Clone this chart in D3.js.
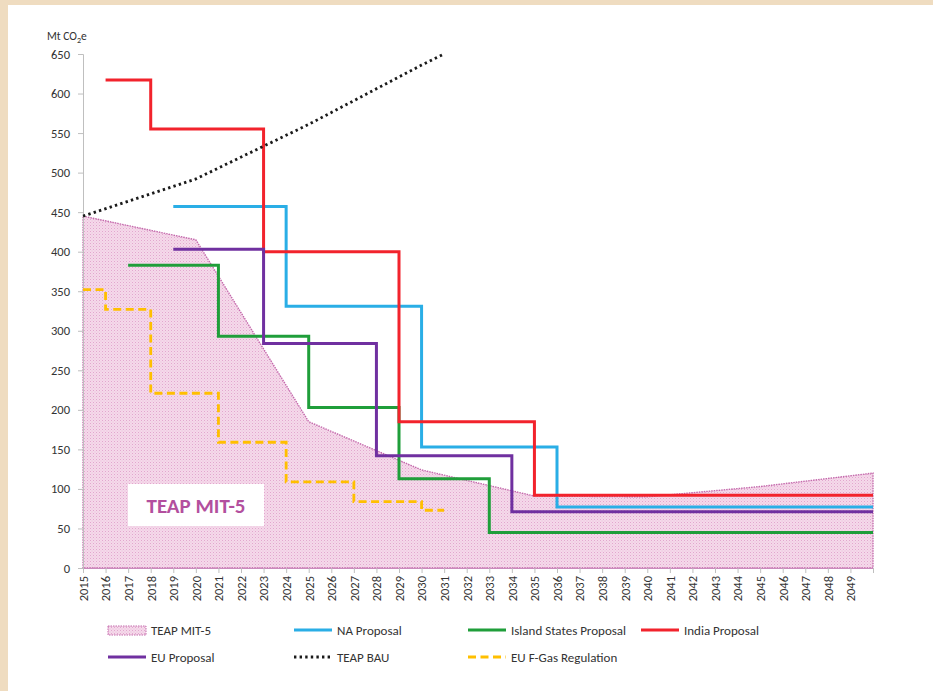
<!DOCTYPE html>
<html>
<head>
<meta charset="UTF-8">
<title>HFC phase-down proposals</title>
<script src="https://cdn.jsdelivr.net/npm/d3@7/dist/d3.min.js"></script>
<style>
html, body { margin: 0; padding: 0; }
body { background: #efdcc0; width: 933px; height: 691px; overflow: hidden; }
svg { position: absolute; left: 0; top: 0; }
text { font-family: Calibri, Carlito, Lato, "Open Sans", sans-serif; fill: #333333; }
</style>
</head>
<body>
<script>
// values (Mt CO2e)
var mitYears = [2015, 2020, 2025, 2030, 2035, 2040, 2045, 2050];
var mitValues = [445, 415, 185, 124, 91, 90, 103, 120];

var naYears = [2019, 2024, 2030, 2036, 2050];
var naValues = [457, 331, 153, 77, 77];

var islandYears = [2017, 2021, 2025, 2029, 2033, 2050];
var islandValues = [383, 293, 203, 113, 45, 45];

var indiaYears = [2016, 2018, 2023, 2029, 2035, 2050];
var indiaValues = [617, 555, 400, 185, 92, 92];

var euYears = [2019, 2023, 2028, 2034, 2050];
var euValues = [403, 284, 142, 71, 71];

var bauYears = [2015, 2020, 2025, 2030, 2031];
var bauValues = [445, 492, 561, 636, 650];

var fgasYears = [2015, 2016, 2018, 2021, 2024, 2027, 2030, 2031];
var fgasValues = [352, 327, 221, 159, 109, 84, 73, 73];

var yTicks = d3.range(0, 651, 50);
var xTicks = d3.range(2015, 2051);
var xLabels = d3.range(2015, 2050);

var width = 933, height = 691;
var svg = d3.select("body").append("svg")
    .attr("width", width)
    .attr("height", height);

// parchment edge, white card
svg.append("rect").attr("x", 8).attr("y", 5).attr("width", width - 8).attr("height", height - 5).attr("fill", "#ffffff");

var defs = svg.append("defs");
var pat = defs.append("pattern")
    .attr("id", "dots")
    .attr("width", 3).attr("height", 3)
    .attr("patternUnits", "userSpaceOnUse");
pat.append("rect").attr("width", 3).attr("height", 3).attr("fill", "#f5d9ea");
pat.append("rect").attr("width", 1).attr("height", 1).attr("fill", "#e2a6ce");
pat.append("rect").attr("x", 1.5).attr("y", 1.5).attr("width", 1).attr("height", 1).attr("fill", "#ebbfdc");

var x = d3.scaleLinear().domain([2015, 2050]).range([83, 873]);
var y = d3.scaleLinear().domain([0, 650]).range([568, 54]);

function zip(xs, vs) {
    return xs.map(function (d, i) { return [d, vs[i]]; });
}

// TEAP MIT-5 area
var area = d3.area()
    .x(function (d) { return x(d[0]); })
    .y0(y(0))
    .y1(function (d) { return y(d[1]); });
svg.append("path")
    .datum(zip(mitYears, mitValues))
    .attr("d", area)
    .attr("fill", "url(#dots)")
    .attr("stroke", "#c46aac")
    .attr("stroke-width", 1.4)
    .attr("stroke-dasharray", "1.5,1");

// label box
var lbl = svg.append("g");
lbl.append("rect")
    .attr("x", 128).attr("y", 484).attr("width", 136).attr("height", 42)
    .attr("fill", "#ffffff");
lbl.append("text")
    .attr("x", 196).attr("y", 513)
    .attr("text-anchor", "middle")
    .attr("font-size", 21)
    .attr("font-weight", "bold")
    .style("fill", "#b34f9e")
    .text("TEAP MIT-5");

// axes
var yAxis = d3.axisLeft(y).tickValues(yTicks).tickSize(5).tickPadding(8);
var gy = svg.append("g").attr("transform", "translate(83,0)").call(yAxis);
gy.select(".domain").attr("stroke", "#bfbfbf");
gy.selectAll(".tick line").attr("stroke", "#bfbfbf");
gy.selectAll(".tick text").attr("font-size", 12.5).style("fill", "#333333")
    .style("font-family", "Calibri, Carlito, Lato, sans-serif");

var xAxis = d3.axisBottom(x).tickValues(xTicks).tickSize(5).tickSizeOuter(0)
    .tickFormat(function (d) { return xLabels.indexOf(d) >= 0 ? d : ""; });
var gx = svg.append("g").attr("transform", "translate(0,568)").call(xAxis);
gx.select(".domain").attr("stroke", "#c98abc");
gx.selectAll(".tick line").attr("stroke", "#bfbfbf");
gx.selectAll(".tick text")
    .attr("font-size", 12.5)
    .style("fill", "#333333")
    .style("font-family", "Calibri, Carlito, Lato, sans-serif")
    .attr("transform", "rotate(-90)")
    .attr("text-anchor", "end")
    .attr("x", -8).attr("y", 0).attr("dy", "0.35em");

// unit label
var unit = svg.append("text").attr("x", 47).attr("y", 40).attr("font-size", 11.5);
unit.append("tspan").text("Mt CO");
unit.append("tspan").attr("font-size", 8).attr("dy", 3).text("2");
unit.append("tspan").attr("dy", -3).text("e");

// series lines
var stepLine = d3.line()
    .x(function (d) { return x(d[0]); })
    .y(function (d) { return y(d[1]); })
    .curve(d3.curveStepAfter);
var plainLine = d3.line()
    .x(function (d) { return x(d[0]); })
    .y(function (d) { return y(d[1]); });

var series = [
    {name: "NA Proposal", data: zip(naYears, naValues), color: "#2aaee6", dash: null, width: 3, gen: stepLine},
    {name: "Island States Proposal", data: zip(islandYears, islandValues), color: "#1f9e3a", dash: null, width: 3, gen: stepLine},
    {name: "India Proposal", data: zip(indiaYears, indiaValues), color: "#f2232c", dash: null, width: 3, gen: stepLine},
    {name: "EU Proposal", data: zip(euYears, euValues), color: "#7030a0", dash: null, width: 3, gen: stepLine},
    {name: "TEAP BAU", data: zip(bauYears, bauValues), color: "#1a1a1a", dash: "2.4,3.2", width: 2.8, gen: plainLine},
    {name: "EU F-Gas Regulation", data: zip(fgasYears, fgasValues), color: "#ffbf00", dash: "8,4.5", width: 2.8, gen: stepLine}
];

svg.append("g").selectAll("path")
    .data(series)
    .enter()
    .append("path")
    .attr("d", function (d) { return d.gen(d.data); })
    .attr("fill", "none")
    .attr("stroke", function (d) { return d.color; })
    .attr("stroke-width", function (d) { return d.width; })
    .attr("stroke-dasharray", function (d) { return d.dash; })
    .attr("stroke-linejoin", "miter");

// legend
var legendItems = [
    {name: "TEAP MIT-5", x: 108, y: 630, swatch: "area"},
    {name: "NA Proposal", x: 294, y: 630, s: series[0]},
    {name: "Island States Proposal", x: 468, y: 630, s: series[1]},
    {name: "India Proposal", x: 641, y: 630, s: series[2]},
    {name: "EU Proposal", x: 108, y: 657, s: series[3]},
    {name: "TEAP BAU", x: 294, y: 657, s: series[4]},
    {name: "EU F-Gas Regulation", x: 468, y: 657, s: series[5]}
];
var lg = svg.append("g").selectAll("g")
    .data(legendItems)
    .enter()
    .append("g")
    .attr("transform", function (d) { return "translate(" + d.x + "," + d.y + ")"; });

lg.each(function (d) {
    var g = d3.select(this);
    if (d.swatch === "area") {
        g.append("rect")
            .attr("x", 0).attr("y", -4).attr("width", 38).attr("height", 9)
            .attr("fill", "url(#dots)")
            .attr("stroke", "#c46aac")
            .attr("stroke-width", 1)
            .attr("stroke-dasharray", "1.5,1");
    } else {
        g.append("line")
            .attr("x1", 0).attr("x2", 38).attr("y1", 0).attr("y2", 0)
            .attr("stroke", d.s.color)
            .attr("stroke-width", d.s.width)
            .attr("stroke-dasharray", d.s.dash);
    }
    g.append("text")
        .attr("x", 43).attr("y", 0).attr("dy", "0.35em")
        .attr("font-size", 13)
        .text(d.name);
});
</script>
</body>
</html>
